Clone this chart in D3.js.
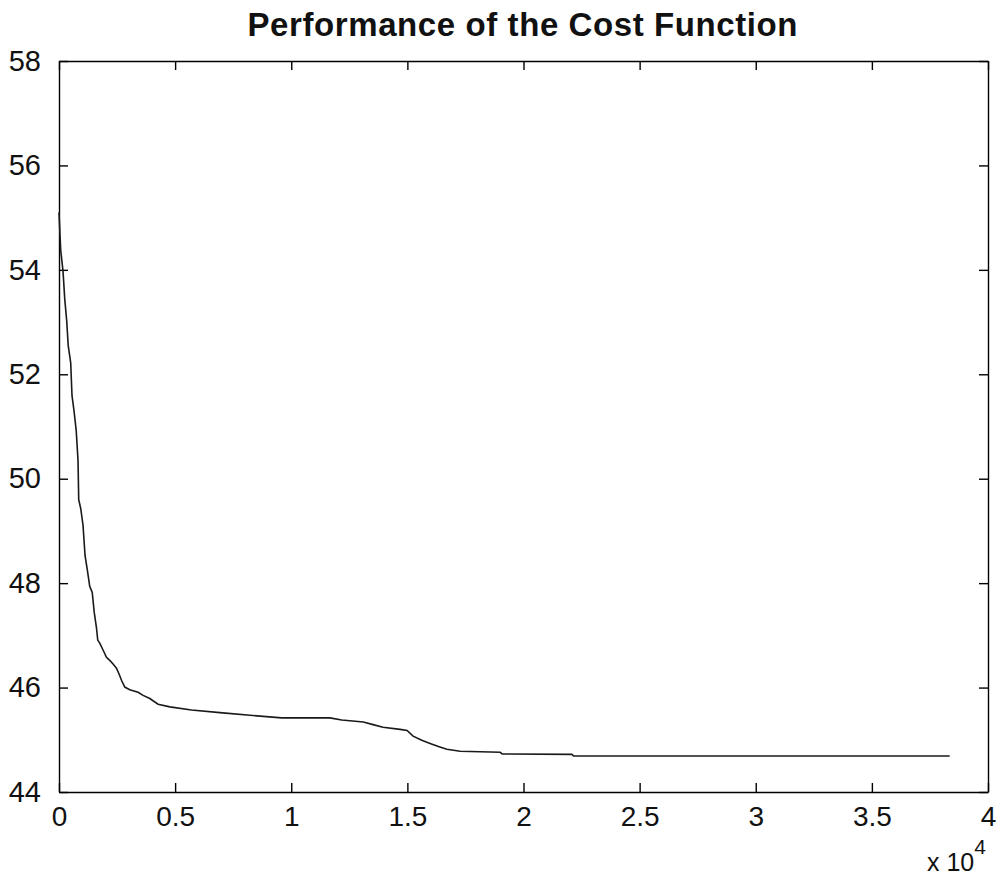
<!DOCTYPE html>
<html>
<head>
<meta charset="utf-8">
<script src="https://cdn.jsdelivr.net/npm/d3@7"></script>
<style>
  html, body { margin: 0; padding: 0; background: #fff; }
  svg text { font-family: "Liberation Sans", Arial, Helvetica, sans-serif; fill: #111; }
</style>
</head>
<body>
<svg id="chart" width="1000" height="879"></svg>
<script>
// Cost value recorded against iteration count
const iterations = [0, 73, 172, 246, 332, 397, 504, 560, 647, 741, 819, 849, 935, 1034, 1121, 1224,
  1323, 1431, 1517, 1612, 1668, 1754, 1897, 2043, 2185, 2328, 2474, 2586, 2690, 2832, 3047, 3405,
  3621, 3909, 4267, 4772, 5707, 6927, 8220, 9586, 11668, 12172, 13103, 13522, 13953, 14685, 14987,
  15246, 15621, 15978, 16336, 16698, 17272, 18996, 19082, 22086, 22155, 38349];
const cost = [55.10, 54.38, 53.98, 53.45, 53.02, 52.55, 52.22, 51.59, 51.30, 50.92, 50.35, 49.60,
  49.43, 49.11, 48.53, 48.24, 47.94, 47.82, 47.44, 47.15, 46.91, 46.85, 46.72, 46.58, 46.52, 46.45,
  46.37, 46.26, 46.14, 46.01, 45.96, 45.91, 45.85, 45.79, 45.68, 45.63, 45.57, 45.52, 45.47, 45.42,
  45.42, 45.38, 45.34, 45.29, 45.24, 45.20, 45.18, 45.07, 44.99, 44.93, 44.87, 44.82, 44.78, 44.76,
  44.73, 44.72, 44.69, 44.69];

const xTicks = [0, 5000, 10000, 15000, 20000, 25000, 30000, 35000, 40000];
const xTickLabels = ["0", "0.5", "1", "1.5", "2", "2.5", "3", "3.5", "4"];
const yTicks = [44, 46, 48, 50, 52, 54, 56, 58];
const titleText = "Performance of the Cost Function";

const plotLeft = 59, plotRight = 988, plotTop = 61, plotBottom = 792;
const svg = d3.select("#chart");

const x = d3.scaleLinear().domain([0, 40000]).range([plotLeft, plotRight]);
const y = d3.scaleLinear().domain([44, 58]).range([plotBottom, plotTop]);

const tickLen = 9;

// Box axes with inward ticks on all four sides
const axisStyle = g => {
  g.select(".domain").attr("stroke", "#000").attr("stroke-width", 1.4);
  g.selectAll(".tick line").attr("stroke", "#000").attr("stroke-width", 1.4);
};

svg.append("g")
  .attr("transform", `translate(0,${plotBottom})`)
  .call(d3.axisBottom(x).tickValues(xTicks).tickSizeInner(-tickLen).tickSizeOuter(0)
    .tickPadding(14).tickFormat((d, i) => xTickLabels[i]))
  .call(axisStyle)
  .call(g => g.selectAll("text").attr("font-size", 28).attr("dy", "0.71em").attr("fill", "#111"));

svg.append("g")
  .attr("transform", `translate(0,${plotTop})`)
  .call(d3.axisTop(x).tickValues(xTicks).tickSizeInner(-tickLen).tickSizeOuter(0).tickFormat(""))
  .call(axisStyle);

svg.append("g")
  .attr("transform", `translate(${plotLeft},0)`)
  .call(d3.axisLeft(y).tickValues(yTicks).tickSizeInner(-tickLen).tickSizeOuter(0)
    .tickPadding(18).tickFormat(d3.format("d")))
  .call(axisStyle)
  .call(g => g.selectAll("text").attr("font-size", 29).attr("fill", "#111"));

svg.append("g")
  .attr("transform", `translate(${plotRight},0)`)
  .call(d3.axisRight(y).tickValues(yTicks).tickSizeInner(-tickLen).tickSizeOuter(0).tickFormat(""))
  .call(axisStyle);

// Exponent note for the x axis
const expo = svg.append("text").attr("x", 927).attr("y", 871).attr("font-size", 25);
expo.append("tspan").text("x 10");
expo.append("tspan").attr("dy", -17).attr("font-size", 21).text("4");

// Title
svg.append("text")
  .attr("x", (plotLeft + plotRight) / 2 - 1).attr("y", 36)
  .attr("text-anchor", "middle")
  .attr("font-size", 33).attr("font-weight", "bold")
  .attr("textLength", 550).attr("lengthAdjust", "spacing")
  .text(titleText);

// Cost curve
const pts = iterations.map((d, i) => [d, cost[i]]);
svg.append("path")
  .datum(pts)
  .attr("fill", "none")
  .attr("stroke", "#1a1a1a")
  .attr("stroke-width", 1.6)
  .attr("d", d3.line().x(d => x(d[0])).y(d => y(d[1])));
</script>
</body>
</html>
